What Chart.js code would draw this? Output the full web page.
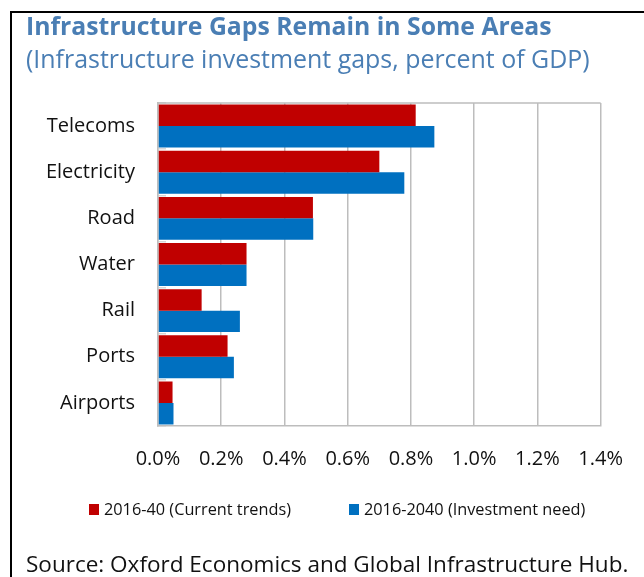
<!DOCTYPE html>
<html>
<head>
<meta charset="utf-8">
<title>Infrastructure Gaps Remain in Some Areas</title>
<script src="https://cdn.jsdelivr.net/npm/chart.js@4.4.1/dist/chart.umd.min.js"></script>
<style>
	html, body { margin: 0; padding: 0; background: #fff; }
	#wrap { position: relative; width: 644px; height: 577px; overflow: hidden; font-family: "Open Sans", sans-serif; }
	#frame { position: absolute; left: 10px; top: 11px; width: 700px; height: 700px; border-left: 2px solid #000; border-top: 2px solid #000; }
	#chart { position: absolute; left: 0; top: 0; }
	.txt { position: absolute; left: 26px; white-space: nowrap; line-height: 1; }
	#title { color: #4a7eb4; font-weight: 700; }
	#subtitle { color: #4a7eb4; }
	#source { color: #111; }
	#legend { position: absolute; left: 89px; top: 501px; display: flex; gap: 58px; line-height: 1; font-size: 16.3px; color: #111; }
	#legend .item { display: flex; align-items: center; white-space: nowrap; }
	#legend .box { width: 10px; height: 11px; margin-right: 5px; }
</style>
</head>
<body>
<div id="wrap">
	<div id="frame"></div>
	<canvas id="chart" width="644" height="577"></canvas>
	<div id="title" class="txt">Infrastructure Gaps Remain in Some Areas</div>
	<div id="subtitle" class="txt">(Infrastructure investment gaps, percent of GDP)</div>
	<div id="legend"></div>
	<div id="source" class="txt">Source: Oxford Economics and Global Infrastructure Hub.</div>
</div>
<script>
// Values, percent of GDP
const categories = ['Telecoms', 'Electricity', 'Road', 'Water', 'Rail', 'Ports', 'Airports'];
const currentTrends = [0.815, 0.70, 0.49, 0.28, 0.138, 0.22, 0.046];
const investmentNeed = [0.874, 0.779, 0.491, 0.28, 0.259, 0.24, 0.049];
const seriesNames = ['2016-40 (Current trends)', '2016-2040 (Investment need)'];
const seriesColors = ['#c00000', '#0070c0'];
const tickLabels = ['0.0%', '0.2%', '0.4%', '0.6%', '0.8%', '1.0%', '1.2%', '1.4%'];

const GRID = '#bdbdbd';

/**
 * Size a text line so it spans the given width, and sit its baseline at y
 */
function placeText(id, width, baseline) {
	const el = document.getElementById(id);
	el.style.fontSize = '20px';
	const size = 20 * width / el.getBoundingClientRect().width;
	el.style.fontSize = size + 'px';
	el.style.top = (baseline - 0.888 * size) + 'px';
}

// Top edge of the plot box (the other three come from the axes)
const plotFrame = {
	id: 'plotFrame',
	afterDraw: function(chart) {
		const a = chart.chartArea;
		const ctx = chart.ctx;
		ctx.save();
		ctx.strokeStyle = GRID;
		ctx.lineWidth = 1.5;
		ctx.beginPath();
		ctx.moveTo(a.left, a.top);
		ctx.lineTo(a.right, a.top);
		ctx.stroke();
		ctx.restore();
	}
};

function buildLegend(chart) {
	const holder = document.getElementById('legend');
	holder.innerHTML = '';
	chart.options.plugins.legend.labels.generateLabels(chart).forEach(function(item) {
		const row = document.createElement('span');
		row.className = 'item';
		const box = document.createElement('span');
		box.className = 'box';
		box.style.background = item.fillStyle;
		row.appendChild(box);
		row.appendChild(document.createTextNode(item.text));
		holder.appendChild(row);
	});
}

function render() {
	placeText('title', 526, 36.5);
	placeText('subtitle', 564, 68);
	placeText('source', 603, 573);

	Chart.defaults.font.family = "'Open Sans', sans-serif";
	Chart.defaults.color = '#111';

	const chart = new Chart(document.getElementById('chart'), {
		type: 'bar',
		data: {
			labels: categories,
			datasets: [
				{ label: seriesNames[0], data: currentTrends, backgroundColor: seriesColors[0], borderWidth: 0 },
				{ label: seriesNames[1], data: investmentNeed, backgroundColor: seriesColors[1], borderWidth: 0 }
			]
		},
		options: {
			indexAxis: 'y',
			responsive: false,
			animation: false,
			datasets: {
				bar: { categoryPercentage: 0.93, barPercentage: 1.0 }
			},
			layout: {
				padding: { top: 103, left: 0, right: 38, bottom: 101 }
			},
			plugins: {
				legend: { display: false },
				tooltip: { enabled: false }
			},
			scales: {
				x: {
					min: 0,
					max: 1.4,
					ticks: {
						stepSize: 0.2,
						padding: 21,
						font: { size: 20 },
						callback: function(value, index) {
							return tickLabels[index];
						}
					},
					grid: { color: GRID, lineWidth: 1.5, drawTicks: false },
					border: { display: true, color: GRID, width: 1.5 },
					afterFit: function(scale) { scale.height = 50; }
				},
				y: {
					ticks: { padding: 31, font: { size: 20 } },
					// short stubs poking into the plot at the category edges
					grid: { drawOnChartArea: false, tickLength: -8, color: '#d6d6d6', lineWidth: 1.5 },
					border: { display: true, color: GRID, width: 1.5 },
					afterFit: function(scale) { scale.width = 158; }
				}
			}
		},
		plugins: [plotFrame]
	});

	buildLegend(chart);
}

Promise.all([
	document.fonts.load('20px "Open Sans"'),
	document.fonts.load('700 20px "Open Sans"')
]).then(render, render);
</script>
</body>
</html>
